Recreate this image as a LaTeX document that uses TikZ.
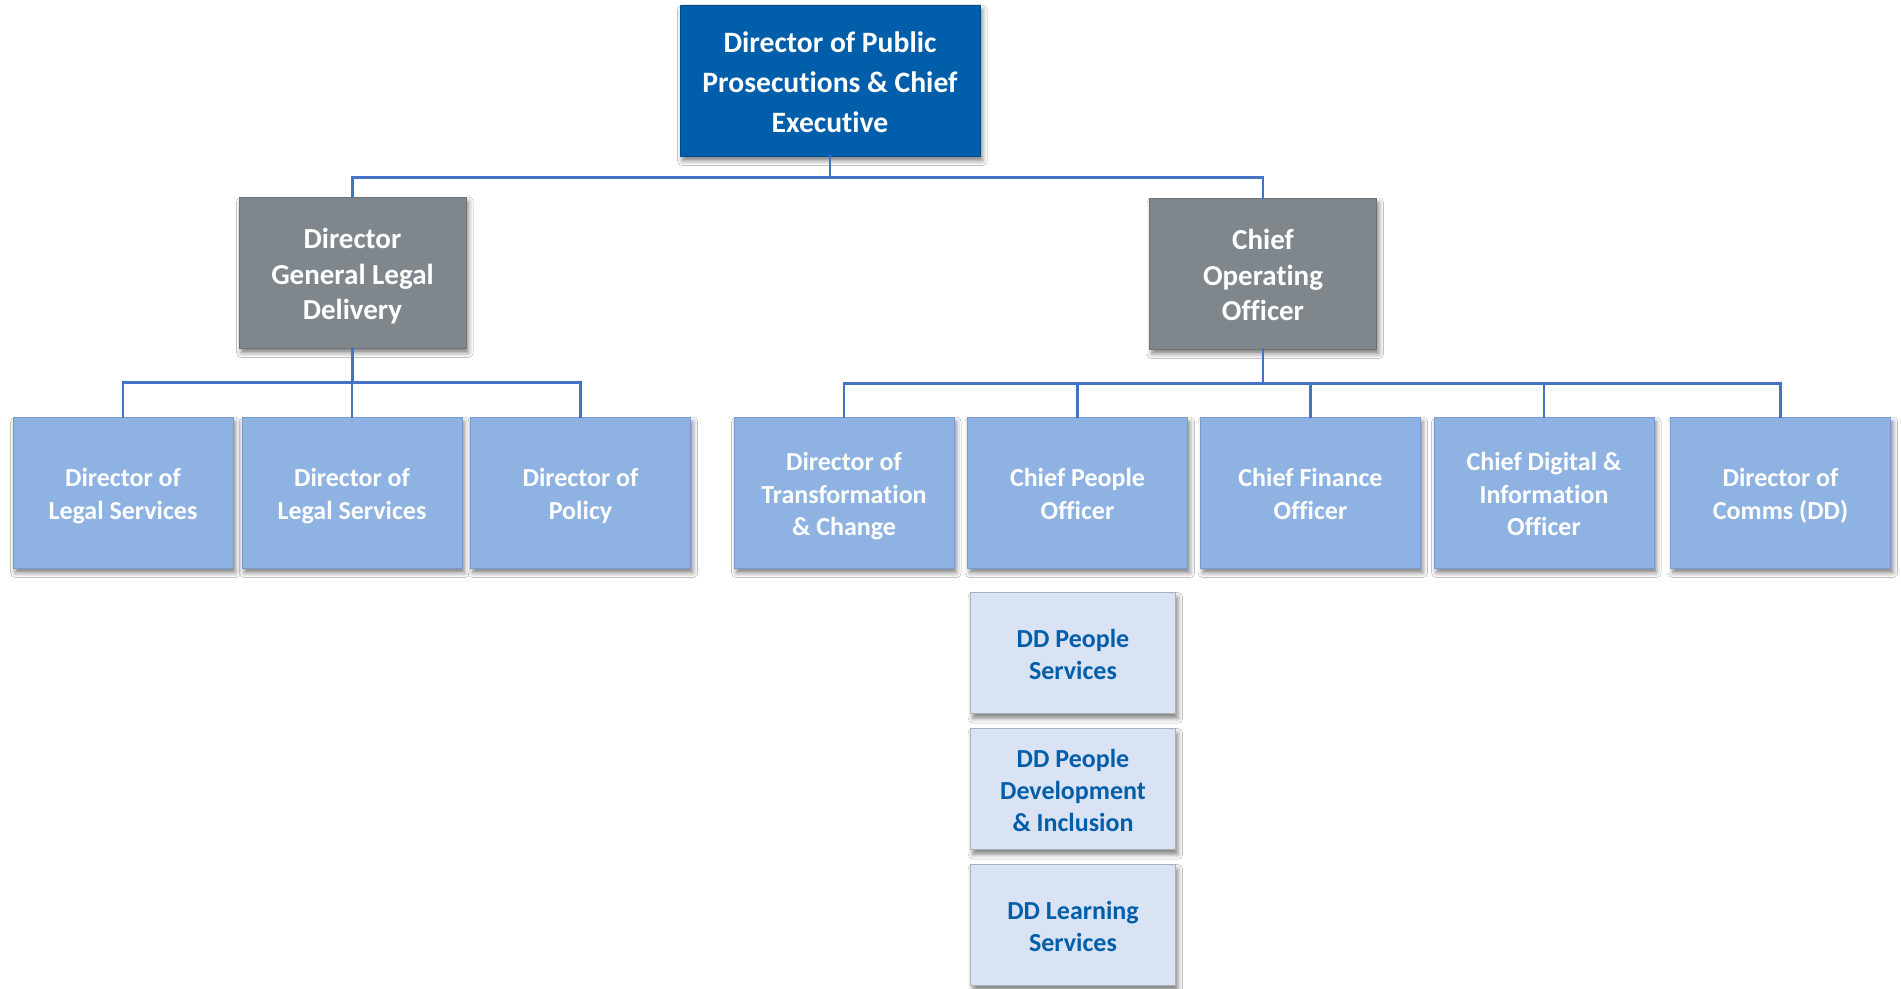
\documentclass[tikz,border=0pt]{standalone}
\usepackage{fontspec}
\setmainfont{Carlito}[Ligatures=CommonOff]
\usetikzlibrary{shadows.blur}
\definecolor{topblue}{RGB}{0,94,170}
\definecolor{mgray}{RGB}{127,135,141}
\definecolor{lblue}{RGB}{142,179,226}
\definecolor{lbluebd}{RGB}{120,155,205}
\definecolor{ddfill}{RGB}{218,227,243}
\definecolor{ddbd}{RGB}{170,175,185}
\definecolor{ddtext}{RGB}{0,94,170}
\definecolor{conncol}{RGB}{68,114,196}
\newcommand\tstrut{\rule{0pt}{\dimexpr0.72em+0.3\baselineskip+1.2pt\relax}}
\tikzset{
  shad/.style={blur shadow={shadow xshift=1.2pt, shadow yshift=-2.4pt, shadow blur radius=2.4pt, shadow opacity=50}},
  lower/.style={execute at end node={\strut}},
  topbox/.style={shad, lower, fill=topblue, draw=topblue!80!black, line width=0.3pt, minimum width=150pt, minimum height=75.5pt, align=center, text=white, font=\fontsize{14.8}{20}\selectfont\bfseries, inner sep=0pt},
  graybox/.style={shad, lower, fill=mgray, draw=mgray!85!black, line width=0.3pt, minimum width=113.5pt, minimum height=75.5pt, align=center, text=white, font=\fontsize{14.5}{17.6}\selectfont\bfseries, inner sep=0pt},
  bluebox/.style={shad, lower, fill=lblue, draw=lbluebd, line width=0.3pt, minimum width=110pt, minimum height=75.5pt, align=center, text=white, font=\fontsize{13}{16.3}\selectfont\bfseries, inner sep=0pt},
  ddbox/.style={shad, lower, fill=ddfill, draw=ddbd, line width=0.4pt, minimum width=102.5pt, minimum height=60.5pt, align=center, text=ddtext, font=\fontsize{13}{15.8}\selectfont\bfseries, inner sep=0pt},
  conn/.style={draw=conncol, line width=1.3pt, line cap=rect, line join=miter}
}
\begin{document}
\begin{tikzpicture}[x=0.5pt,y=-0.5pt]
\useasboundingbox[fill=white] (0,0) rectangle (1901,989);
\node[topbox] (top) at (830,80.5) {\tstrut Director of Public\\Prosecutions \& Chief\\Executive};
\node[graybox] (dgld) at (352.5,272.5) {\tstrut Director\\General Legal\\Delivery};
\node[graybox] (coo) at (1263,273.5) {\tstrut Chief\\Operating\\Officer};

\node[bluebox] (l1) at (123,492.5) {\tstrut Director of\\Legal Services};
\node[bluebox] (l2) at (352,492.5) {\tstrut Director of\\Legal Services};
\node[bluebox] (l3) at (580.5,492.5) {\tstrut Director of\\Policy};

\node[bluebox] (r1) at (844,492.5) {\tstrut Director of\\Transformation\\\& Change};
\node[bluebox] (r2) at (1077.5,492.5) {\tstrut Chief People\\Officer};
\node[bluebox] (r3) at (1310.5,492.5) {\tstrut Chief Finance\\Officer};
\node[bluebox] (r4) at (1544,492.5) {\tstrut Chief Digital \&\\Information\\Officer};
\node[bluebox] (r5) at (1780.5,492.5) {\tstrut Director of\\Comms (DD)};

\node[ddbox] (d1) at (1073,653) {\tstrut DD People\\Services};
\node[ddbox] (d2) at (1073,789) {\tstrut DD People\\Development\\\& Inclusion};
\node[ddbox] (d3) at (1073,925) {\tstrut DD Learning\\Services};

\draw[conn] (top.south) -- ++(0,21) -| (dgld.north);
\draw[conn] (top.south) -- ++(0,21) -| (coo.north);

\draw[conn] (dgld.south) -- ++(0,34) -| (l1.north);
\draw[conn] (dgld.south) -- ++(0,34) -| (l2.north);
\draw[conn] (dgld.south) -- ++(0,34) -| (l3.north);

\draw[conn] (coo.south) -- ++(0,34) -| (r1.north);
\draw[conn] (coo.south) -- ++(0,34) -| (r2.north);
\draw[conn] (coo.south) -- ++(0,34) -| (r3.north);
\draw[conn] (coo.south) -- ++(0,34) -| (r4.north);
\draw[conn] (coo.south) -- ++(0,34) -| (r5.north);
\end{tikzpicture}
\end{document}
